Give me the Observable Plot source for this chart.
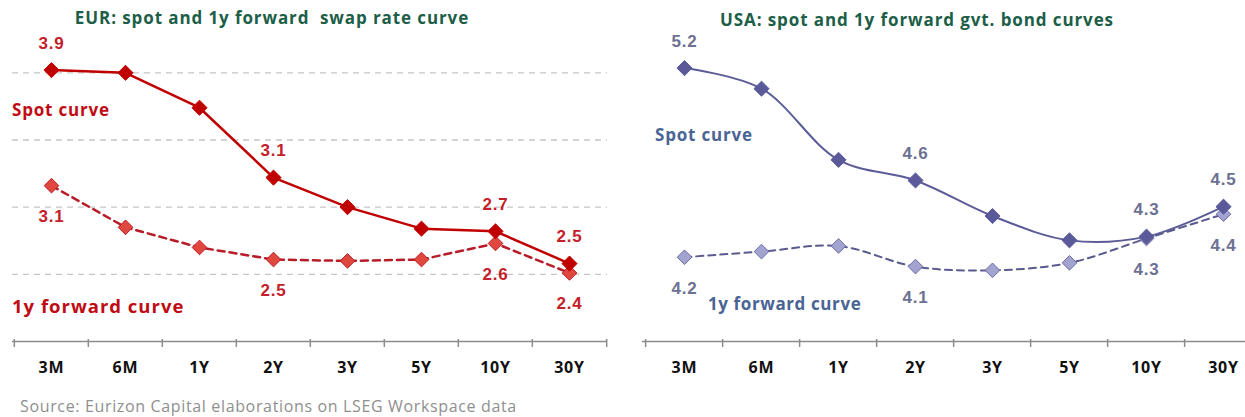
<!DOCTYPE html>
<html>
<head>
<meta charset="utf-8">
<script src="https://cdn.jsdelivr.net/npm/d3@7"></script>
<script src="https://cdn.jsdelivr.net/npm/@observablehq/plot@0.6"></script>
<style>
  body { margin: 0; background: #fff; width: 1245px; height: 417px; overflow: hidden; position: relative; }
  .abs { position: absolute; white-space: nowrap; line-height: 20px; }
  .title { font-family: "Open Sans", sans-serif; font-weight: 700; font-size: 17px; letter-spacing: 0.9px; color: #1d5e48; transform: translateX(-50%); }
  .series { font-family: "Open Sans", sans-serif; font-weight: 700; font-size: 17px; letter-spacing: 0.8px; }
  .source { font-family: "Open Sans", sans-serif; font-size: 16px; letter-spacing: 0.65px; color: #8f8f8f; }
</style>
</head>
<body>
<div class="abs title" style="left:272px; top:8px;">EUR: spot and 1y forward&nbsp; swap rate curve</div>
<div class="abs title" style="left:917px; top:10px;">USA: spot and 1y forward gvt. bond curves</div>
<div id="left" class="abs" style="left:0; top:0; width:622px;"></div>
<div id="right" class="abs" style="left:622px; top:0; width:645px;"></div>
<div class="abs series" style="left:12px; top:100px; color:#c00a14;">Spot curve</div>
<div class="abs series" style="left:12px; top:296px; color:#c00a14; font-size:18.5px; letter-spacing:1px;">1y forward curve</div>
<div class="abs series" style="left:655px; top:125px; color:#4a6494;">Spot curve</div>
<div class="abs series" style="left:708px; top:294px; color:#4a6494; letter-spacing:0.6px;">1y forward curve</div>
<div class="abs source" style="left:20px; top:396px;">Source: Eurizon Capital elaborations on LSEG Workspace data</div>
<script>
// ---- data ----
const tenors = ["3M", "6M", "1Y", "2Y", "3Y", "5Y", "10Y", "30Y"];
const eurSpot = [3.92, 3.90, 3.64, 3.12, 2.90, 2.74, 2.72, 2.48];
const eurFwd  = [3.06, 2.75, 2.60, 2.51, 2.50, 2.51, 2.63, 2.41];
const usaSpot = [5.20, 5.09, 4.71, 4.60, 4.41, 4.28, 4.30, 4.46];
const usaFwd  = [4.19, 4.22, 4.25, 4.14, 4.12, 4.16, 4.29, 4.42];
const labeledTenors = ["3M", "2Y", "10Y", "30Y"];
const eurGrid = [2.4, 2.9, 3.4, 3.9];
const eurDomain = [1.9, 4.2];
const usaDomain = [3.74, 5.39];

const fmt = d3.format(".1f");

function panel(o) {
  const H = 390, MT = 32, MB = 49;
  const step = (o.width - o.ml - o.mr) / tenors.length;
  const rows = tenors.map((t, i) => ({t, spot: o.spot[i], fwd: o.fwd[i]}));
  const lab = rows.filter(d => labeledTenors.includes(d.t));
  const base = o.domain[0];
  const axisColor = "#8c8c8c";
  const numFont = "'Liberation Sans', Arial, sans-serif";
  return Plot.plot({
    width: o.width, height: H,
    marginTop: MT, marginBottom: MB, marginLeft: o.ml, marginRight: o.mr,
    x: {type: "point", domain: tenors, padding: 0.5, tickSize: 0, tickPadding: 20, label: null},
    y: {domain: o.domain, axis: null},
    style: {fontFamily: "'Open Sans', sans-serif", fontSize: "16px", fontWeight: 700, letterSpacing: "0.8px", color: "#111", background: "transparent", overflow: "visible", maxWidth: "none"},
    marks: [
      o.grid ? Plot.ruleY(o.grid, {stroke: "#c6c6c6", strokeWidth: 1.3, strokeDasharray: "6,5"}) : null,
      Plot.ruleY([base], {stroke: axisColor, strokeWidth: 1.5}),
      Plot.ruleX(tenors, {x: d => d, y1: base, y2: base, insetTop: 6, insetBottom: 2, dx: -step / 2, stroke: axisColor, strokeWidth: 1.5}),
      Plot.ruleX([tenors[tenors.length - 1]], {x: d => d, y1: base, y2: base, insetTop: 6, insetBottom: 2, dx: step / 2, stroke: axisColor, strokeWidth: 1.5}),
      Plot.line(rows, {x: "t", y: "fwd", stroke: o.fwdLine, strokeWidth: o.sw, strokeDasharray: "7,5", curve: o.curve}),
      Plot.line(rows, {x: "t", y: "spot", stroke: o.spotLine, strokeWidth: o.sw, curve: o.curve}),
      Plot.dot(rows, {x: "t", y: "fwd", symbol: "diamond2", r: 6.6, fill: o.fwdFill, stroke: o.fwdStroke, strokeWidth: 1}),
      Plot.dot(rows, {x: "t", y: "spot", symbol: "diamond2", r: 6.8, fill: o.spotFill, stroke: o.spotFill, strokeWidth: 1}),
      Plot.text(lab, {x: "t", y: "spot", text: d => fmt(d.spot), dy: -27, fill: o.labelColor, fontSize: 17, fontWeight: 700, fontFamily: numFont}),
      Plot.text(lab, {x: "t", y: "fwd", text: d => fmt(d.fwd), dy: 31, fill: o.labelColor, fontSize: 17, fontWeight: 700, fontFamily: numFont})
    ]
  });
}

document.getElementById("left").append(panel({
  spot: eurSpot, fwd: eurFwd, domain: eurDomain, grid: eurGrid,
  width: 622, ml: 12, mr: 15, curve: "linear", sw: 2.5,
  spotLine: "#c00000", spotFill: "#c00000",
  fwdLine: "#b81c28", fwdFill: "#e0473f", fwdStroke: "#b81c28",
  labelColor: "#c4202a"
}));

document.getElementById("right").append(panel({
  spot: usaSpot, fwd: usaFwd, domain: usaDomain, grid: null,
  width: 645, ml: 20, mr: 3, curve: "catmull-rom", sw: 2,
  spotLine: "#5c5c98", spotFill: "#5a5a9a",
  fwdLine: "#5a5a8e", fwdFill: "#a3a3d0", fwdStroke: "#6c6ca6",
  labelColor: "#6d7092"
}));
</script>
</body>
</html>
